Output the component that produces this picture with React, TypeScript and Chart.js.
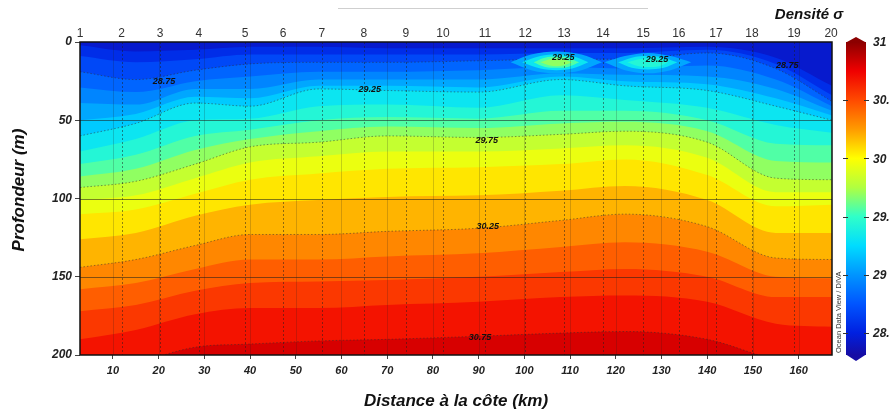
import React, { useEffect, useRef } from "react";
import { Chart, registerables } from "chart.js";

Chart.register(...registerables);

// ---------- DATA ----------
// Sample positions along the section (km from the coast)
const distanceKm = [2.8, 15, 28, 40, 55, 70, 90, 108, 122, 140, 155, 167.3];

// Isopycnal levels (density sigma) and their depths (m) at each sample position
const sigmaLevels = [
  28.5, 28.625, 28.75, 28.875, 29.0, 29.125, 29.25, 29.375, 29.5, 29.625,
  29.75, 29.875, 30.0, 30.125, 30.25, 30.375, 30.5, 30.625, 30.75,
];
const depth28_500 = [2, 6, 5, 3, 3, 4, 4, 4, 4, 3, 10, 28];
const depth28_625 = [9, 13, 11, 8, 8, 8, 8, 7, 7, 5, 14, 34];
const depth28_750 = [19, 24, 18, 14, 13, 13, 12, 11, 11, 7, 17, 38];
const depth28_875 = [29, 32, 25, 22, 19, 19, 18, 16, 17, 15, 24, 41];
const depth29_000 = [39, 40, 30, 30, 24, 24, 24, 20, 21, 22, 30, 44];
const depth29_125 = [50, 46, 35, 36, 28, 28, 29, 22, 25, 27, 36, 47];
const depth29_250 = [60, 52, 39, 41, 30, 31, 32, 24, 28, 31, 41, 50];
const depth29_375 = [70, 62, 50, 49, 41, 40, 42, 34, 37, 42, 53, 58];
const depth29_500 = [78, 72, 60, 56, 50, 48, 49, 44, 44, 50, 65, 66];
const depth29_625 = [86, 81, 69, 62, 57, 54, 55, 52, 51, 57, 76, 77];
const depth29_750 = [93, 89, 78, 67, 64, 60, 61, 59, 57, 64, 87, 88];
const depth29_875 = [101, 98, 87, 77, 73, 70, 70, 68, 66, 74, 96, 96];
const depth30_000 = [110, 107, 97, 88, 84, 81, 80, 78, 75, 85, 105, 104];
const depth30_125 = [126, 122, 111, 104, 101, 99, 98, 95, 92, 101, 122, 122];
const depth30_250 = [144, 139, 130, 123, 123, 121, 119, 114, 110, 118, 138, 139];
const depth30_375 = [158, 154, 145, 139, 139, 137, 135, 131, 128, 134, 150, 151];
const depth30_500 = [172, 168, 159, 154, 153, 152, 150, 147, 145, 150, 163, 163];
const depth30_625 = [190, 184, 174, 170, 170, 168, 166, 163, 162, 166, 180, 182];
const depth30_750 = [212, 205, 195, 193, 191, 190, 188, 186, 185, 190, 203, 208];
const isopycnalDepths = [
  depth28_500, depth28_625, depth28_750, depth28_875, depth29_000, depth29_125,
  depth29_250, depth29_375, depth29_500, depth29_625, depth29_750, depth29_875,
  depth30_000, depth30_125, depth30_250, depth30_375, depth30_500, depth30_625,
  depth30_750,
];
const labelledLevels = [28.75, 29.25, 29.75, 30.25, 30.75];

// Near-surface dense lenses (closed isopycnals): levels, km, upper & lower depths
const lensALevels = [29.0, 29.25, 29.5, 29.625];
const lensAKm = [
  [97, 101.5, 107, 112.5, 117],
  [99.5, 103.5, 107, 110.5, 114],
  [102, 104.5, 107, 109.5, 112],
  [103.5, 105.5, 107, 108.5, 110.5],
];
const lensATop = [
  [13, 8, 6, 8, 13],
  [13, 9, 8, 9, 13],
  [13, 10, 9.5, 10, 13],
  [13, 11, 10.5, 11, 13],
];
const lensABottom = [
  [13, 18, 20, 18, 13],
  [13, 17, 18, 17, 13],
  [13, 16, 16.5, 16, 13],
  [13, 15, 15.5, 15, 13],
];
const lensBLevels = [29.0, 29.25, 29.375];
const lensBKm = [
  [117.5, 122, 127, 132, 136.5],
  [120.5, 123.5, 127, 130.5, 133.5],
  [122.5, 125, 127, 129.5, 131.5],
];
const lensBTop = [
  [13, 9, 7, 9, 13],
  [13, 10, 9, 10, 13],
  [13, 11, 10.5, 11, 13],
];
const lensBBottom = [
  [13, 18, 20, 18, 13],
  [13, 16.5, 17.5, 16.5, 13],
  [13, 15.5, 16, 15.5, 13],
];

// Contour labels (text, km, depth)
const contourText = ["28.75", "29.25", "29.25", "29.25", "28.75", "29.75", "30.25", "30.75"];
const contourKm = [21.2, 66.2, 108.5, 129, 157.5, 91.8, 92, 90.3];
const contourDepth = [25.5, 30.6, 10, 11.5, 15.3, 63, 118, 189];

// Axes
const kmTicks = [10, 20, 30, 40, 50, 60, 70, 80, 90, 100, 110, 120, 130, 140, 150, 160];
const depthTicks = [0, 50, 100, 150, 200];
const stationNumbers = [1, 2, 3, 4, 5, 6, 7, 8, 9, 10, 11, 12, 13, 14, 15, 16, 17, 18, 19, 20];
const stationKm = [
  2.8, 11.9, 20.3, 28.8, 38.9, 47.2, 55.7, 64.9, 74.1, 82.2, 91.4, 100.2, 108.7,
  117.2, 126.0, 133.8, 141.9, 149.8, 159.0, 167.1,
];
const colorbarTicks = [28.5, 29, 29.5, 30, 30.5, 31];

// Colour map (ODV-like rainbow)
const cmapValues = [28.28, 28.5, 28.75, 29.0, 29.25, 29.5, 29.75, 30.0, 30.25, 30.5, 30.75, 31.0];
const cmapColors = [
  [26, 10, 154], [0, 32, 224], [0, 85, 255], [0, 149, 255], [0, 220, 255],
  [48, 255, 200], [176, 255, 64], [255, 255, 0], [255, 155, 0], [255, 74, 0],
  [240, 0, 0], [140, 0, 0],
];

function colorAt(v: number): string {
  if (v <= cmapValues[0]) return `rgb(${cmapColors[0].join(",")})`;
  for (let i = 1; i < cmapValues.length; i++) {
    if (v <= cmapValues[i]) {
      const t = (v - cmapValues[i - 1]) / (cmapValues[i] - cmapValues[i - 1]);
      const a = cmapColors[i - 1], b = cmapColors[i];
      const c = a.map((av, k) => Math.round(av + (b[k] - av) * t));
      return `rgb(${c.join(",")})`;
    }
  }
  return `rgb(${cmapColors[cmapColors.length - 1].join(",")})`;
}

const FONT = "'Liberation Sans', Arial, sans-serif";
const X_MIN = 2.8;
const X_MAX = 167.3;
const CB_MIN = 28.31;
const CB_MAX = 31;

function buildDatasets() {
  const ds: any[] = [];
  sigmaLevels.forEach((lvl, i) => {
    const labelled = labelledLevels.includes(lvl);
    ds.push({
      type: "line",
      label: `sigma ${lvl}`,
      data: distanceKm.map((km, j) => ({ x: km, y: isopycnalDepths[i][j] })),
      xAxisID: "x",
      yAxisID: "y",
      backgroundColor: colorAt(lvl + 0.0625),
      borderColor: labelled ? "rgba(45,45,45,0.5)" : "rgba(0,0,0,0)",
      borderWidth: labelled ? 1 : 0,
      borderDash: [1.5, 2],
      fill: { value: 200 },
      pointRadius: 0,
      cubicInterpolationMode: "monotone",
      order: 100 - i,
    });
  });
  const addLens = (levels: number[], kms: number[][], tops: number[][], bottoms: number[][], base: number) => {
    levels.forEach((lvl, k) => {
      ds.push({
        type: "line",
        label: `lens top ${lvl}`,
        data: kms[k].map((km, j) => ({ x: km, y: tops[k][j] })),
        xAxisID: "x",
        yAxisID: "y",
        borderColor: "rgba(0,0,0,0)",
        borderWidth: 0,
        fill: false,
        pointRadius: 0,
        cubicInterpolationMode: "monotone",
        order: base - k,
      });
      ds.push({
        type: "line",
        label: `lens bottom ${lvl}`,
        data: kms[k].map((km, j) => ({ x: km, y: bottoms[k][j] })),
        xAxisID: "x",
        yAxisID: "y",
        borderColor: "rgba(0,0,0,0)",
        borderWidth: 0,
        backgroundColor: colorAt(lvl + 0.0625),
        fill: "-1",
        pointRadius: 0,
        cubicInterpolationMode: "monotone",
        order: base - k,
      });
    });
  };
  addLens(lensALevels, lensAKm, lensATop, lensABottom, -1);
  addLens(lensBLevels, lensBKm, lensBTop, lensBBottom, -20);
  return ds;
}

const overlayPlugin = {
  id: "sectionOverlay",
  beforeDatasetsDraw(chart: any) {
    const { ctx, chartArea: a } = chart;
    ctx.save();
    ctx.fillStyle = colorAt(28.44);
    ctx.fillRect(a.left, a.top, a.right - a.left, a.bottom - a.top);
    ctx.restore();
  },
  afterDatasetsDraw(chart: any) {
    const { ctx, chartArea: a, scales } = chart;
    const xs = scales.x;
    const ys = scales.y;
    ctx.save();
    ctx.beginPath();
    ctx.rect(a.left, a.top, a.right - a.left, a.bottom - a.top);
    ctx.clip();
    ctx.lineWidth = 1;
    // km grid (faint)
    ctx.strokeStyle = "rgba(30,30,30,0.2)";
    kmTicks.forEach((km) => {
      const px = Math.round(xs.getPixelForValue(km)) + 0.5;
      ctx.beginPath();
      ctx.moveTo(px, a.top);
      ctx.lineTo(px, a.bottom);
      ctx.stroke();
    });
    // station lines (dotted)
    ctx.setLineDash([2, 2]);
    ctx.strokeStyle = "rgba(30,30,30,0.5)";
    stationKm.slice(1, -1).forEach((km) => {
      const px = Math.round(xs.getPixelForValue(km)) + 0.5;
      ctx.beginPath();
      ctx.moveTo(px, a.top);
      ctx.lineTo(px, a.bottom);
      ctx.stroke();
    });
    ctx.setLineDash([]);
    // depth lines
    ctx.strokeStyle = "rgba(30,30,30,0.55)";
    depthTicks.filter((d) => d > 0 && d < 200).forEach((d) => {
      const py = Math.round(ys.getPixelForValue(d)) + 0.5;
      ctx.beginPath();
      ctx.moveTo(a.left, py);
      ctx.lineTo(a.right, py);
      ctx.stroke();
    });
    // contour labels
    ctx.fillStyle = "#111";
    ctx.font = `italic bold 9px ${FONT}`;
    ctx.textAlign = "center";
    ctx.textBaseline = "middle";
    contourText.forEach((t, i) => {
      ctx.fillText(t, xs.getPixelForValue(contourKm[i]), ys.getPixelForValue(contourDepth[i]));
    });
    ctx.restore();

    // frame
    ctx.save();
    ctx.strokeStyle = "#111";
    ctx.lineWidth = 1.5;
    ctx.strokeRect(a.left, a.top, a.right - a.left, a.bottom - a.top);
    ctx.restore();
  },
  afterDraw(chart: any) {
    const { ctx, chartArea: a, scales } = chart;
    const xs = scales.x;
    const cb = scales.cb;

    // station numbers (top axis)
    ctx.save();
    ctx.fillStyle = "#333";
    ctx.font = `12px ${FONT}`;
    ctx.textAlign = "center";
    ctx.textBaseline = "middle";
    stationKm.forEach((km, i) => {
      ctx.fillText(String(stationNumbers[i]), xs.getPixelForValue(km), a.top - 8);
    });
    ctx.restore();

    // colour bar
    const barL = a.right + 14;
    const barW = 20;
    const yTop = cb.getPixelForValue(CB_MAX);
    const yBot = cb.getPixelForValue(CB_MIN);
    const grad = ctx.createLinearGradient(0, yBot, 0, yTop);
    cmapValues.forEach((v) => {
      const off = (v - CB_MIN) / (CB_MAX - CB_MIN);
      if (off >= 0 && off <= 1) grad.addColorStop(off, colorAt(v));
    });
    grad.addColorStop(0, colorAt(CB_MIN));
    grad.addColorStop(1, colorAt(CB_MAX));
    ctx.save();
    ctx.fillStyle = grad;
    ctx.fillRect(barL, yTop, barW, yBot - yTop);
    ctx.fillStyle = colorAt(CB_MAX);
    ctx.beginPath();
    ctx.moveTo(barL, yTop + 0.5);
    ctx.lineTo(barL + barW / 2, yTop - 5);
    ctx.lineTo(barL + barW, yTop + 0.5);
    ctx.closePath();
    ctx.fill();
    ctx.fillStyle = colorAt(CB_MIN);
    ctx.beginPath();
    ctx.moveTo(barL, yBot - 0.5);
    ctx.lineTo(barL + barW / 2, yBot + 6);
    ctx.lineTo(barL + barW, yBot - 0.5);
    ctx.closePath();
    ctx.fill();
    ctx.strokeStyle = "#333";
    ctx.lineWidth = 1;
    colorbarTicks.filter((v) => v < CB_MAX).forEach((v) => {
      const py = Math.round(cb.getPixelForValue(v)) + 0.5;
      ctx.beginPath();
      ctx.moveTo(barL - 3, py);
      ctx.lineTo(barL + 2, py);
      ctx.moveTo(barL + barW - 2, py);
      ctx.lineTo(barL + barW + 3, py);
      ctx.stroke();
    });
    // colour bar labels
    ctx.fillStyle = "#222";
    ctx.font = `italic bold 12px ${FONT}`;
    ctx.textAlign = "left";
    ctx.textBaseline = "middle";
    colorbarTicks.forEach((v) => {
      ctx.fillText(String(v), barL + barW + 7, cb.getPixelForValue(v) + 1);
    });
    ctx.restore();

    // Ocean Data View / DIVA
    ctx.save();
    ctx.translate(a.right + 7, a.bottom - 2);
    ctx.rotate(-Math.PI / 2);
    ctx.fillStyle = "#333";
    ctx.font = `7.5px ${FONT}`;
    ctx.textAlign = "left";
    ctx.textBaseline = "middle";
    ctx.fillText("Ocean Data View / DIVA", 0, 0);
    ctx.restore();

    // titles
    ctx.save();
    ctx.fillStyle = "#111";
    ctx.textAlign = "center";
    ctx.textBaseline = "middle";
    ctx.font = `italic bold 17px ${FONT}`;
    ctx.fillText("Distance à la côte (km)", 456, 401);
    ctx.font = `italic bold 15px ${FONT}`;
    ctx.fillText("Densité σ", 809, 15);
    ctx.translate(19, 190);
    ctx.rotate(-Math.PI / 2);
    ctx.font = `italic bold 17px ${FONT}`;
    ctx.fillText("Profondeur (m)", 0, 0);
    ctx.restore();
  },
};

export default function App() {
  const canvasRef = useRef<HTMLCanvasElement | null>(null);

  useEffect(() => {
    document.body.style.margin = "0";
    const canvas = canvasRef.current;
    if (!canvas) return;
    Chart.defaults.font.family = FONT;
    const boldItalic = (size: number) => ({ family: FONT, size, weight: "bold" as const, style: "italic" as const });
    const chart = new Chart(canvas, {
      type: "line",
      data: { datasets: buildDatasets() },
      options: {
        responsive: false,
        maintainAspectRatio: false,
        devicePixelRatio: 1,
        animation: false,
        layout: { padding: 0 },
        plugins: { legend: { display: false }, tooltip: { enabled: false } },
        scales: {
          x: {
            type: "linear",
            position: "bottom",
            min: X_MIN,
            max: X_MAX,
            afterBuildTicks: (s: any) => { s.ticks = kmTicks.map((v) => ({ value: v })); },
            afterFit: (s: any) => { s.height = 59; },
            ticks: { font: boldItalic(11), color: "#222", padding: 5, autoSkip: false, maxRotation: 0, callback: (v: any) => String(v) },
            grid: { display: true, drawOnChartArea: false, drawTicks: true, tickLength: 4, tickColor: "#444" },
            border: { display: false },
          },
          xTop: {
            type: "linear",
            position: "top",
            min: X_MIN,
            max: X_MAX,
            afterBuildTicks: (s: any) => { s.ticks = stationKm.map((v) => ({ value: v })); },
            afterFit: (s: any) => { s.height = 42; },
            ticks: { display: false },
            grid: { display: false },
            border: { display: false },
          },
          y: {
            type: "linear",
            position: "left",
            reverse: true,
            min: 0,
            max: 200,
            afterBuildTicks: (s: any) => { s.ticks = depthTicks.map((v) => ({ value: v })); },
            afterFit: (s: any) => { s.width = 80; },
            ticks: { font: boldItalic(12), color: "#222", padding: 3, autoSkip: false, callback: (v: any) => String(v) },
            grid: { display: true, drawOnChartArea: false, drawTicks: true, tickLength: 5, tickColor: "#444" },
            border: { display: false },
          },
          cb: {
            type: "linear",
            position: "right",
            min: CB_MIN,
            max: CB_MAX,
            afterBuildTicks: (s: any) => { s.ticks = colorbarTicks.map((v) => ({ value: v })); },
            afterFit: (s: any) => { s.width = 58; },
            ticks: { display: false },
            grid: { display: false },
            border: { display: false },
          },
        },
      } as any,
      plugins: [overlayPlugin],
    });
    return () => chart.destroy();
  }, []);

  return (
    <div style={{ position: "relative", width: 890, height: 414, background: "#fff" }}>
      <canvas ref={canvasRef} width={890} height={414} style={{ width: 890, height: 414, display: "block" }} />
      <div style={{ position: "absolute", left: 338, top: 8, width: 310, height: 0, borderTop: "1px solid #cfcfcf" }} />
    </div>
  );
}
